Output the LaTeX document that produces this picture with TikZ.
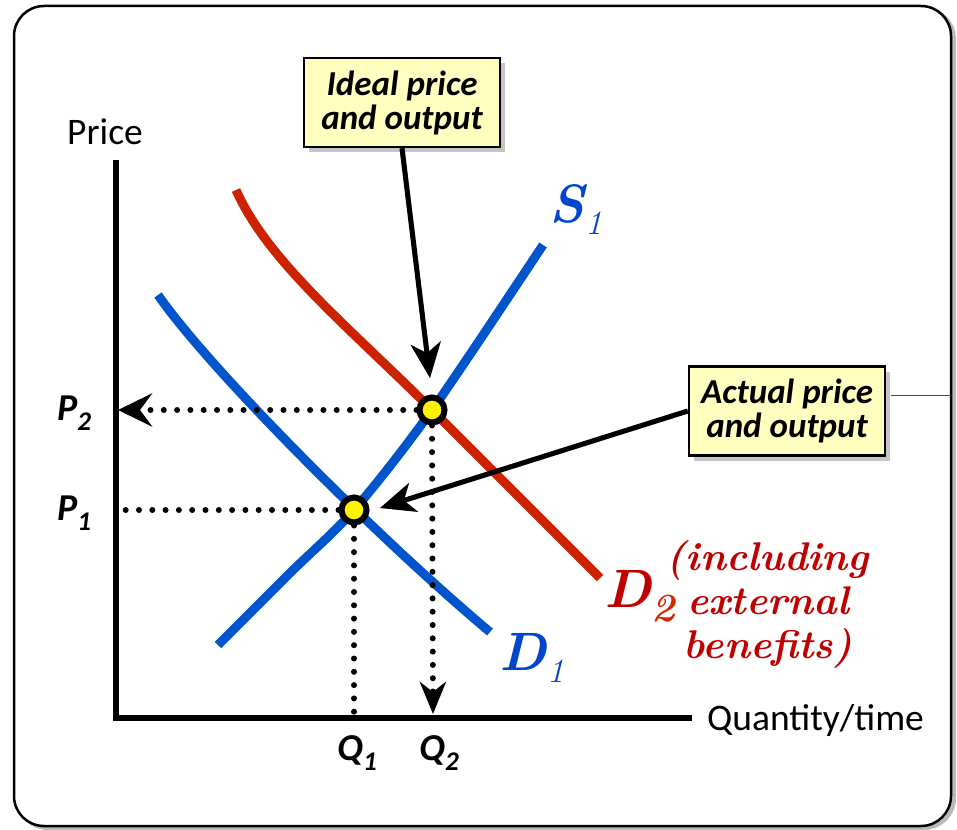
\documentclass[tikz,border=0pt]{standalone}
\usepackage{fontspec}
\newfontfamily\carl{Carlito}
\usetikzlibrary{arrows.meta,shadows}
\definecolor{curveblue}{RGB}{0,85,204}
\definecolor{curvered}{RGB}{204,34,0}
\definecolor{labred}{RGB}{192,0,0}
\definecolor{subred}{RGB}{210,40,0}
\definecolor{labblue}{RGB}{0,70,204}
\definecolor{boxfill}{RGB}{255,255,192}
\definecolor{thinblue}{RGB}{0,90,180}
\begin{document}
\begin{tikzpicture}[x=1pt,y=-1pt]
\tikzset{
 curve/.style={line width=9},
 dots/.style={line width=6, dash pattern=on 0pt off 13.3pt, line cap=round},
 callout/.style={draw, line width=2.5, fill=boxfill, minimum width=196, minimum height=89, align=center,
   font=\carl\bfseries\itshape\fontsize{35}{34}\selectfont, inner sep=0,
   drop shadow={shadow xshift=5pt, shadow yshift=-5pt, opacity=0.45}},
 pointer/.style={line width=5, -{Stealth[length=35, width=30, inset=10]}},
 pointershadow/.style={pointer, black, opacity=0.25, shift={(5,5)}},
 eq/.style={circle, draw, line width=6, fill=yellow, minimum size=25, inner sep=0},
 axis/.style={line width=6},
 axislabel/.style={font=\carl\fontsize{37.5}{37.5}\selectfont, inner sep=0},
 pqlabel/.style={font=\carl\bfseries\itshape\fontsize{38}{38}\selectfont, inner sep=0},
 curvelabel/.style={font=\bfseries\itshape\fontsize{54}{54}\selectfont, inner sep=0},
}
\useasboundingbox (0,0) rectangle (957,829);
% frame
\draw[gray!55, line width=4, rounded corners=30] (18,9) rectangle (954,828);
\draw[line width=2.5, fill=white, rounded corners=30] (14,6) rectangle (951,826);

% curves
\draw[curve, curvered] (236,190) .. controls (268,262) and (350,328) .. (432,410) -- (600,578);
\draw[curve, curveblue] (158,295) .. controls (210,370) and (380,540) .. (490,632);
\draw[curve, curveblue] plot[smooth] coordinates {(218,645) (290,573) (354,510) (432,410) (543,245)};

% axes
\coordinate (ytop) at (116,160);
\coordinate (origin) at (116,718);
\coordinate (xend) at (692,718);
\draw[axis] (ytop) -- (origin) -- (xend);
\node[axislabel] (price) at (105,132) {Price};
\node[axislabel, anchor=west] (qty) at (707,720) {Quantity/time};

% equilibrium points
\node[eq] (E2) at (432,410) {};
\node[eq] (E1) at (354,510) {};

% dotted guides
\coordinate (p2) at (118,410);
\coordinate (p1) at (121,510);
\coordinate (q1) at (354,715);
\coordinate (q2) at (433,714);
\draw[dots, -{Stealth[length=34, width=33, inset=12]}] (E2.west) -- (p2);
\draw[dots] (E1.west) -- (p1);
\draw[dots] (E1.south) -- (q1);
\draw[dots, -{Stealth[length=32, width=26, inset=10]}] (E2.south) -- (q2);

% axis value labels
\node[pqlabel] (P2) at (74,413) {P\raisebox{-10pt}{\fontsize{27}{27}\selectfont 2}};
\node[pqlabel] (P1) at (74,513) {P\raisebox{-10pt}{\fontsize{27}{27}\selectfont 1}};
\node[pqlabel] (Q1) at (357,753) {Q\raisebox{-10pt}{\fontsize{27}{27}\selectfont 1}};
\node[pqlabel] (Q2) at (439,753) {Q\raisebox{-10pt}{\fontsize{27}{27}\selectfont 2}};

% curve labels
\node[curvelabel, labblue] (S1) at (576,210) {S\raisebox{-12pt}{\mdseries\fontsize{34}{34}\selectfont 1}};
\node[curvelabel, labblue] (D1) at (532,658) {D\raisebox{-12pt}{\mdseries\fontsize{34}{34}\selectfont 1}};
\node[curvelabel, labred] (D2) at (640,596) {D\raisebox{-14pt}{\color{subred}\bfseries\fontsize{40}{40}\selectfont 2}};
\node[labred, align=center, inner sep=0, font=\bfseries\itshape\fontsize{40}{44}\selectfont] (ext) at (768,604) {(including\\external\\benefits)};

% callouts
\node[callout] (ideal) at (402,102.5) {Ideal price\\and output};
\node[callout] (actual) at (787,411) {Actual price\\and output};
\coordinate (t2) at (430,378);
\coordinate (t1) at (380,508);
\draw[pointershadow] (ideal.south) -- (t2);
\draw[pointershadow] (actual.west) -- (t1);
\draw[pointer] (ideal.south) -- (t2);
\draw[pointer] (actual.west) -- (t1);

% thin line to frame
\coordinate (bl) at (891,395);
\coordinate (frameR) at (951,395);
\draw[thinblue, line width=1] (bl) -- (frameR);
\end{tikzpicture}
\end{document}
